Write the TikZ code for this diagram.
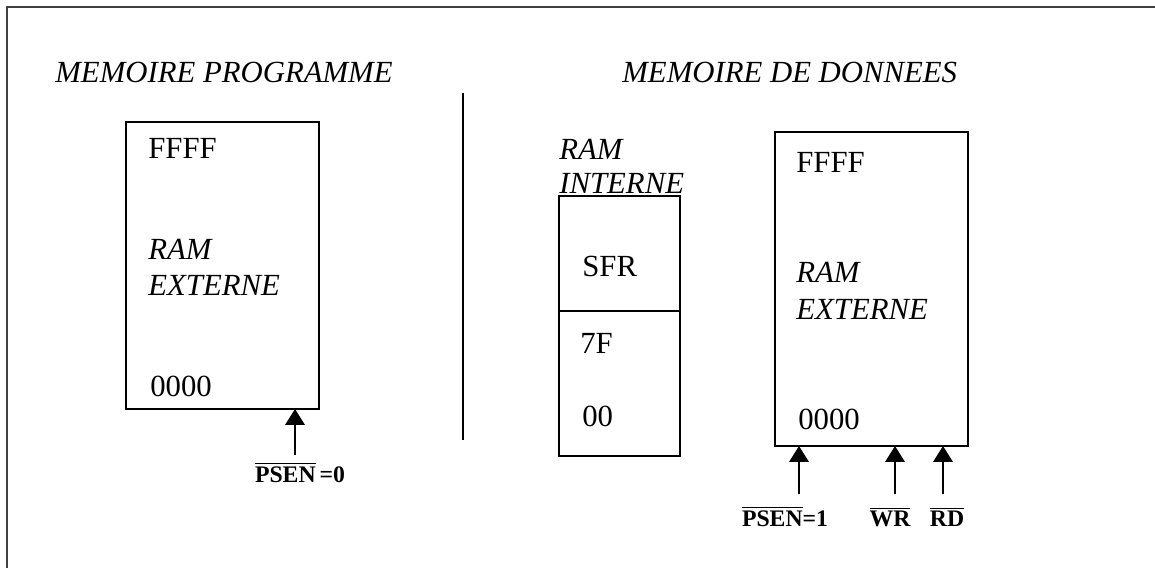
\documentclass[tikz,border=0pt]{standalone}
\usepackage{fontspec}
\setmainfont{Liberation Serif}
\usepackage{tikz}
\usetikzlibrary{arrows.meta}
\pgfdeclarelayer{edgelayer}
\pgfdeclarelayer{nodelayer}
\pgfsetlayers{edgelayer,nodelayer,main}
\tikzstyle{none}=[inner sep=0pt]
\tikzstyle{txt}=[inner sep=0pt, anchor=base west, font=\fontsize{17.5}{20}\selectfont]
\tikzstyle{sig}=[inner sep=0pt, anchor=base, font=\fontsize{13.5}{16}\selectfont\bfseries]
\tikzstyle{box}=[draw, line width=1.1pt]
\tikzstyle{bus}=[-{Triangle[width=11pt,length=9pt]}, line width=1.1pt]
\tikzstyle{frame}=[draw={rgb,255:red,64;green,64;blue,64}, line width=1.6pt]

\begin{document}
\begin{tikzpicture}[x=0.02cm, y=-0.02cm]
	\useasboundingbox (0, 0) rectangle (1155, 568);
	\draw [style=frame] (7, 568) -- (7, 7) -- (1155, 7);
	\begin{pgfonlayer}{nodelayer}
		\node [style=txt] (0) at (55, 82) {\textit{MEMOIRE PROGRAMME}};
		\node [style=txt] (1) at (622, 82) {\textit{MEMOIRE DE DONNEES}};
		\node [style=none] (2) at (126, 122) {};
		\node [style=none] (3) at (319, 409) {};
		\node [style=none] (4) at (559, 196) {};
		\node [style=none] (5) at (680, 456) {};
		\node [style=none] (6) at (559, 311) {};
		\node [style=none] (7) at (680, 311) {};
		\node [style=none] (8) at (775, 132) {};
		\node [style=none] (9) at (968, 446) {};
		\node [style=none] (10) at (463, 93) {};
		\node [style=none] (11) at (463, 440) {};
		\node [style=txt] (12) at (148, 158) {FFFF};
		\node [style=txt] (13) at (148, 259) {\textit{RAM}};
		\node [style=txt] (14) at (148, 295) {\textit{EXTERNE}};
		\node [style=txt] (15) at (150, 396) {0000};
		\node [style=txt] (16) at (559, 159) {\textit{RAM}};
		\node [style=txt] (17) at (559, 193) {\textit{INTERNE}};
		\node [style=txt] (18) at (582, 276) {SFR};
		\node [style=txt] (19) at (580, 353) {7F};
		\node [style=txt] (20) at (582, 426) {00};
		\node [style=txt] (21) at (796, 172) {FFFF};
		\node [style=txt] (22) at (796, 282) {\textit{RAM}};
		\node [style=txt] (23) at (796, 319) {\textit{EXTERNE}};
		\node [style=txt] (24) at (798, 429) {0000};
		\node [style=none] (25) at (295, 455) {};
		\node [style=none] (26) at (295, 409) {};
		\node [style=none] (27) at (799, 494) {};
		\node [style=none] (28) at (799, 446) {};
		\node [style=none] (29) at (895, 494) {};
		\node [style=none] (30) at (895, 446) {};
		\node [style=none] (31) at (943, 494) {};
		\node [style=none] (32) at (943, 446) {};
		\node [style=sig] (33) at (300, 482) {$\overline{\mbox{PSEN}}$\,=0};
		\node [style=sig] (34) at (785, 526) {$\overline{\mbox{PSEN}}$=1};
		\node [style=sig] (35) at (890, 526) {$\overline{\mbox{WR}}$};
		\node [style=sig] (36) at (947, 526) {$\overline{\mbox{RD}}$};
	\end{pgfonlayer}
	\begin{pgfonlayer}{edgelayer}
		\draw [style=box] (2.center) rectangle (3.center);
		\draw [style=box] (4.center) rectangle (5.center);
		\draw [style=box] (6.center) to (7.center);
		\draw [style=box] (8.center) rectangle (9.center);
		\draw [line width=0.9pt] (10.center) to (11.center);
		\draw [style=bus] (25.center) to (26.center);
		\draw [style=bus] (27.center) to (28.center);
		\draw [style=bus] (29.center) to (30.center);
		\draw [style=bus] (31.center) to (32.center);
	\end{pgfonlayer}
\end{tikzpicture}
\end{document}
